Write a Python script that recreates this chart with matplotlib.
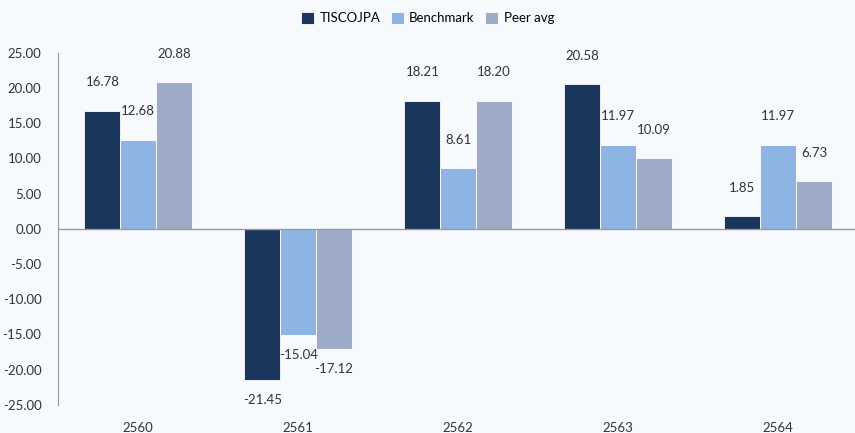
import matplotlib
matplotlib.use("Agg")
import matplotlib.pyplot as plt
import numpy as np

# values
years = ["2560", "2561", "2562", "2563", "2564"]
tisco = [16.78, -21.45, 18.21, 20.58, 1.85]
benchmark = [12.68, -15.04, 8.61, 11.97, 11.97]
peer = [20.88, -17.12, 18.20, 10.09, 6.73]

series = [("TISCOJPA", tisco, "#1b365d"),
          ("Benchmark", benchmark, "#8eb4e3"),
          ("Peer avg", peer, "#9eabc7")]

bg = "#f7fafd"
plt.rcParams['font.family'] = ['Lato', 'DejaVu Sans']

fig = plt.figure(figsize=(8.55, 4.33), dpi=100, facecolor=bg)
ax = fig.add_axes([0.068, 0.065, 0.932, 0.813], facecolor=bg)

x = np.arange(len(years))
w = 0.224
for k, (name, vals, col) in enumerate(series):
    pos = x + (k - 1) * w
    ax.bar(pos, vals, w, color=col, edgecolor="white", linewidth=0.6, label=name, zorder=2)
    for px, v in zip(pos, vals):
        if v >= 0:
            ax.annotate(f"{v:.2f}", (px, v), xytext=(0, 16), textcoords="offset points",
                        ha="center", va="bottom", fontsize=9.5, color="#333333")
        else:
            ax.annotate(f"{v:.2f}", (px, v), xytext=(0, -10), textcoords="offset points",
                        ha="center", va="top", fontsize=9.5, color="#333333")

ax.set_xlim(-0.5, 4.48)
ax.set_ylim(-25, 25)
ax.set_yticks(np.arange(-25, 26, 5))
ax.set_yticklabels([f"{t:.2f}" for t in np.arange(-25, 26, 5)])
ax.set_xticks(x)
ax.set_xticklabels(years)
ax.axhline(0, color="#999999", linewidth=1, zorder=3)

for s in ["top", "right", "bottom"]:
    ax.spines[s].set_visible(False)
ax.spines["left"].set_color("#999999")
ax.tick_params(axis="y", length=0, pad=12, labelsize=9.5, colors="#333333")
ax.tick_params(axis="x", length=0, pad=12, labelsize=9.5, colors="#333333")

fig.legend(loc="upper center", bbox_to_anchor=(0.5, 1.0), ncol=3, frameon=False,
           fontsize=9.5, handlelength=1.0, handleheight=1.0, handletextpad=0.4,
           columnspacing=0.8)

fig.savefig("out.png", dpi=100, facecolor=bg)
